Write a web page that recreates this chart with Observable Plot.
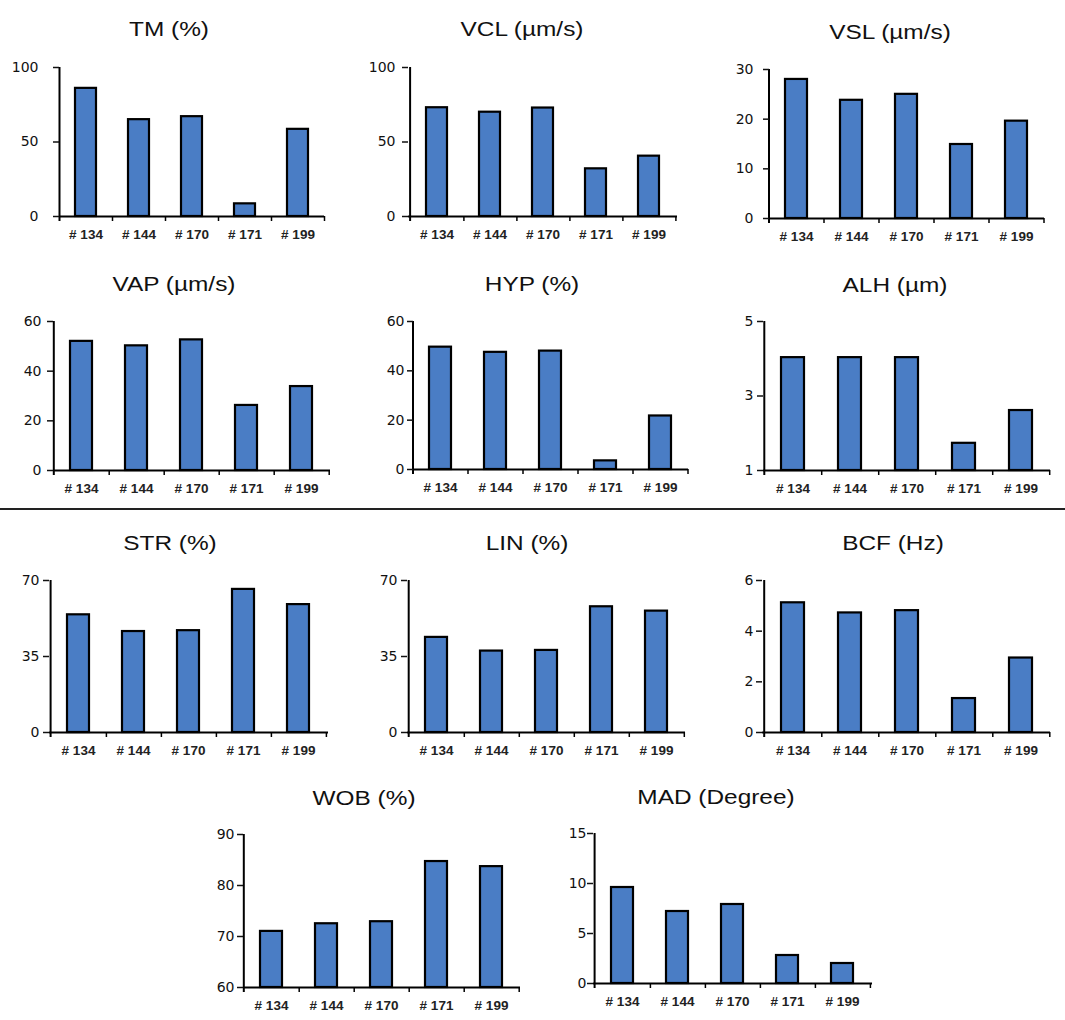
<!DOCTYPE html>
<html>
<head>
<meta charset="utf-8">
<script src="https://cdn.jsdelivr.net/npm/d3@7"></script>
<script src="https://cdn.jsdelivr.net/npm/@observablehq/plot@0.6"></script>
<style>
  html, body { margin: 0; padding: 0; background: #fff; }
  #page { position: relative; width: 1065px; height: 1020px; overflow: hidden; background: #fff; }
  .title { position: absolute; width: 300px; text-align: center; font-family: "Liberation Sans", Arial, sans-serif;
           font-size: 20px; line-height: 20px; color: #111; white-space: nowrap; transform: scaleX(1.22); transform-origin: center; }
  .panel { position: absolute; }
  .sep { position: absolute; left: 0; width: 1065px; top: 508px; height: 1.5px; background: #222; }
</style>
</head>
<body>
<div id="page"><div class="sep"></div></div>
<script>
// ---- Data ----
const samples = ["# 134", "# 144", "# 170", "# 171", "# 199"];
const titles = ["TM (%)", "VCL (µm/s)", "VSL (µm/s)", "VAP (µm/s)", "HYP (%)", "ALH (µm)",
                "STR (%)", "LIN (%)", "BCF (Hz)", "WOB (%)", "MAD (Degree)"];

const tmValues  = [86, 65, 67, 8.5, 58.5];
const vclValues = [73, 70, 72.8, 32, 40.5];
const vslValues = [28, 23.8, 25, 14.9, 19.6];
const vapValues = [52, 50.2, 52.6, 26.2, 33.8];
const hypValues = [49.6, 47.5, 48, 3.5, 21.7];
const alhValues = [4.03, 4.03, 4.03, 1.73, 2.61];
const strValues = [54.2, 46.5, 46.9, 65.9, 58.9];
const linValues = [43.8, 37.5, 37.8, 57.9, 55.9];
const bcfValues = [5.12, 4.72, 4.81, 1.34, 2.94];
const wobValues = [71, 72.5, 72.9, 84.7, 83.7];
const madValues = [9.6, 7.2, 7.9, 2.8, 2.0];

const tmTicks  = [0, 50, 100];
const vclTicks = [0, 50, 100];
const vslTicks = [0, 10, 20, 30];
const vapTicks = [0, 20, 40, 60];
const hypTicks = [0, 20, 40, 60];
const alhTicks = [1, 3, 5];
const strTicks = [0, 35, 70];
const linTicks = [0, 35, 70];
const bcfTicks = [0, 2, 4, 6];
const wobTicks = [60, 70, 80, 90];
const madTicks = [0, 5, 10, 15];

const seriesValues = [tmValues, vclValues, vslValues, vapValues, hypValues, alhValues,
                      strValues, linValues, bcfValues, wobValues, madValues];
const seriesTicks = [tmTicks, vclTicks, vslTicks, vapTicks, hypTicks, alhTicks,
                     strTicks, linTicks, bcfTicks, wobTicks, madTicks];

// ---- Layout (pixels): y-axis x, x-axis end, top tick y, bottom y, title center x, title baseline, label gap ----
const layout = [
  [59, 324, 67, 216, 169, 36, 21],
  [408, 677, 67, 216, 522, 36, 13],
  [769, 1044, 69, 218, 890, 39, 16],
  [53, 330, 321, 470, 174, 291, 12],
  [413, 688, 321, 469, 532, 291, 9],
  [763, 1050, 321, 470, 895, 292, 10],
  [49, 328, 580, 732, 170, 550, 10],
  [407, 685, 580, 732, 527, 550, 10],
  [762, 1050, 580, 732, 893, 550, 9],
  [243, 520, 834, 987, 364, 805, 9],
  [593, 872, 833, 983, 716, 804, 7]
];

const BAR = "#4a7dc5";
const page = document.getElementById("page");

titles.forEach((title, k) => {
  const [ax, ex, ty, by, tx, tb, gap] = layout[k];
  const values = seriesValues[k];
  const ticks = seriesTicks[k];
  const ymin = ticks[0], ymax = ticks[ticks.length - 1];
  const mL = 50, mR = 10, mT = 12, mB = 34;
  const step = (ex - ax) / samples.length;
  const data = samples.map((s, i) => ({sample: s, value: values[i]}));

  const chart = Plot.plot({
    width: ex - ax + mL + mR,
    height: by - ty + mT + mB,
    marginLeft: mL, marginRight: mR, marginTop: mT, marginBottom: mB,
    style: {background: "transparent", overflow: "visible", color: "#111"},
    x: {domain: samples, paddingInner: 0.6, paddingOuter: 0.3},
    y: {domain: [ymin, ymax]},
    marks: [
      Plot.barY(data, {x: "sample", y1: ymin, y2: "value", fill: BAR, stroke: "#000", strokeWidth: 2.2}),
      Plot.ruleY([ymin], {stroke: "#000", strokeWidth: 2}),
      Plot.ruleX(samples, {x: d => d, y1: ymin, y2: ymin, dx: step / 2, insetBottom: -5, stroke: "#000", strokeWidth: 1.5}),
      Plot.ruleX([samples[0]], {x: d => d, y1: ymax, y2: ymin, dx: -step / 2, insetBottom: -5, stroke: "#000", strokeWidth: 2}),
      Plot.axisY({ticks: ticks, tickSize: 6, tickPadding: Math.max(1, gap - 6),
                  tickFormat: d => String(d), label: null, strokeWidth: 1.5}),
      Plot.axisX({tickSize: 0, tickPadding: 13, label: null})
    ]
  });
  d3.select(chart).selectAll("text").each(function () {
    const s = this.textContent || "";
    const sel = d3.select(this);
    if (s.trim().startsWith("#")) {
      sel.style("font-size", "13.5px").style("font-weight", "bold")
         .style("font-family", "'Liberation Sans', Arial, sans-serif").style("fill", "#222");
    } else {
      sel.style("font-size", "14px").style("font-family", "'DejaVu Sans', sans-serif").style("fill", "#111");
    }
  });

  const wrap = document.createElement("div");
  wrap.className = "panel";
  wrap.style.left = (ax - mL) + "px";
  wrap.style.top = (ty - mT) + "px";
  wrap.appendChild(chart);
  page.appendChild(wrap);

  const t = document.createElement("div");
  t.className = "title";
  t.textContent = title;
  t.style.left = (tx - 150) + "px";
  t.style.top = (tb - 17) + "px";
  page.appendChild(t);
});
</script>
</body>
</html>
